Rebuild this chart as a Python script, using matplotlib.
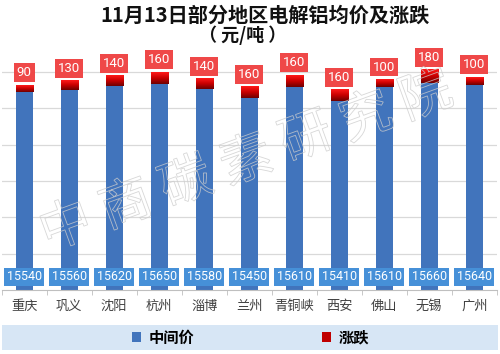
import numpy as np
import matplotlib
matplotlib.use('Agg')
import matplotlib.pyplot as plt
from matplotlib.patches import Rectangle, PathPatch
from matplotlib.textpath import TextPath
from matplotlib.font_manager import FontProperties
from matplotlib.transforms import Affine2D, IdentityTransform
from matplotlib.colors import LinearSegmentedColormap

plt.rcParams['font.family'] = ['Noto Sans CJK SC', 'DejaVu Sans']

# --- data ---
cities = ['重庆', '巩义', '沈阳', '杭州', '淄博', '兰州', '青铜峡', '西安', '佛山', '无锡', '广州']
mid_price = [15540, 15560, 15620, 15650, 15580, 15450, 15610, 15410, 15610, 15660, 15640]
change = [90, 130, 140, 160, 140, 160, 160, 160, 100, 180, 100]

y_min = 12812
y_max = 16117
grid_step = 500

blue = '#4174BC'
red = '#C00000'

fig = plt.figure(figsize=(5, 3.54), dpi=100)
ax = fig.add_axes([0.0034, 0.1808, 0.99, 0.678])

x = np.arange(len(cities))
w = 0.38
b1 = ax.bar(x, mid_price, width=w, color=blue, zorder=2)
b2 = ax.bar(x, change, width=w, bottom=mid_price, color=red, zorder=2)

# red gradient on the change segments
cmap = LinearSegmentedColormap.from_list('rg', ['#6E0000', '#C80000', '#FF1A1A'])
grad = np.linspace(0, 1, 64).reshape(-1, 1)
for r in b2:
    x0, y0 = r.get_x(), r.get_y()
    ax.imshow(grad, extent=[x0, x0 + r.get_width(), y0, y0 + r.get_height()],
              origin='lower', aspect='auto', cmap=cmap, zorder=3)

ax.set_xlim(-0.5, len(cities) - 0.5)
ax.set_ylim(y_min, y_max)
ax.set_yticks(np.arange(y_min + grid_step, y_max, grid_step))
ax.yaxis.grid(True, color='#D9D9D9', lw=0.9, zorder=0)
ax.set_axisbelow(True)
ax.tick_params(axis='y', length=0, labelleft=False)
for s in ['left', 'right', 'top']:
    ax.spines[s].set_visible(False)
ax.spines['bottom'].set_color('#BFBFBF')
ax.spines['bottom'].set_zorder(4)

ax.set_xticks(x)
ax.set_xticklabels(cities, fontsize=9.5, color='#404040')
ax.set_xticks(np.arange(-0.5, len(cities), 1), minor=True)
ax.tick_params(axis='x', which='major', length=0, pad=7)
ax.tick_params(axis='x', which='minor', length=3.6, color='#BFBFBF', direction='out')

# labels: price at the base, change above bar
for i in range(len(cities)):
    ax.annotate(str(mid_price[i]), (x[i], y_min), xytext=(0, 9.6), textcoords='offset points',
                ha='center', va='center', fontsize=9, color='white', family='Roboto',
                bbox=dict(boxstyle='square,pad=0.2', fc='#4690D8', ec='none'),
                zorder=6, annotation_clip=False)
    ax.annotate(str(change[i]), (x[i], mid_price[i] + change[i]), xytext=(0, 9),
                textcoords='offset points', ha='center', va='center', fontsize=9.5,
                color='white', family='Roboto',
                bbox=dict(boxstyle='square,pad=0.22', fc='#EF4848', ec='none'),
                zorder=6, annotation_clip=False)

# title
fig.text(0.53, 0.957, '11月13日部分地区电解铝均价及涨跌', ha='center', va='center',
         fontsize=14.5, fontweight='bold', color='#111111')
fig.text(0.486, 0.901, '（ 元/吨 ）', ha='center', va='center',
         fontsize=13, fontweight='bold', color='#111111')

# watermark
wm = '中商碳素研究院'
fp = FontProperties(family='Noto Sans CJK SC')
ang = np.deg2rad(20)
cx, cy = 245, 354 - 157
step = 64
for k, ch in enumerate(wm):
    tp = TextPath((0, 0), ch, size=52, prop=fp)
    bb = tp.get_extents()
    d = (k - (len(wm) - 1) / 2) * step
    px, py = cx + d * np.cos(ang), cy + d * np.sin(ang)
    tr = Affine2D().translate(-(bb.x0 + bb.width / 2), -(bb.y0 + bb.height / 2)).rotate_deg(20).translate(px, py)
    fig.add_artist(PathPatch(tp, transform=tr + IdentityTransform(), fc='none',
                             ec='#CDCDCD', lw=0.6, alpha=0.8, zorder=5))

# legend band
fig.add_artist(Rectangle((0.004, 0.0113), 0.992, 0.0706, transform=fig.transFigure,
                         fc='#D7E6F5', ec='none', zorder=0))
fig.legend([b1, b2], ['中间价', '涨跌'], loc='center', bbox_to_anchor=(0.501, 0.0466),
           ncol=2, frameon=False, prop=dict(family='Noto Sans CJK SC', weight='bold', size=11),
           handlelength=0.55, handleheight=0.55, handletextpad=0.5, columnspacing=8.4)

fig.savefig('out.png', dpi=100)
